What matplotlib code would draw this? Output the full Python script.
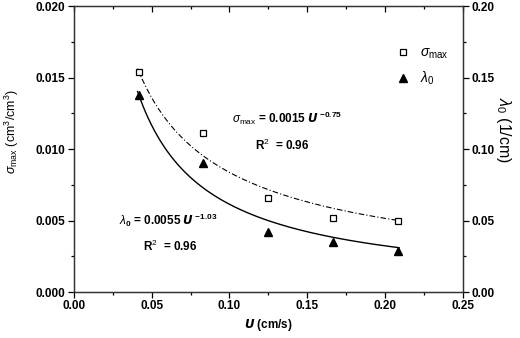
import numpy as np
import matplotlib
matplotlib.use('Agg')
import matplotlib.pyplot as plt

plt.rcParams['font.family'] = ['Liberation Sans', 'DejaVu Sans']
plt.rcParams['mathtext.fontset'] = 'custom'
plt.rcParams['mathtext.rm'] = 'Liberation Sans'
plt.rcParams['mathtext.it'] = 'Liberation Sans:italic'
plt.rcParams['mathtext.bf'] = 'Liberation Sans:bold'

# data
U = [0.0417, 0.0833, 0.125, 0.1667, 0.2083]
sigma_max = [0.0154, 0.0111, 0.0066, 0.0052, 0.0050]
lambda_0 = [0.138, 0.090, 0.042, 0.035, 0.029]

# power-law curves as drawn (a * U^b)
sig_fit = (0.00167, -0.70)
lam_fit = (0.00728, -0.926)
fit_range = (0.041, 0.209)

x_ticks = [0.00, 0.05, 0.10, 0.15, 0.20, 0.25]
y_ticks = [0.000, 0.005, 0.010, 0.015, 0.020]
y2_ticks = [0.00, 0.05, 0.10, 0.15, 0.20]

fig = plt.figure(figsize=(5.2, 3.38), dpi=100)
ax = fig.add_axes([0.142, 0.136, 0.748, 0.846])
ax2 = ax.twinx()

uu = np.linspace(fit_range[0], fit_range[1], 200)
ax.plot(uu, sig_fit[0] * uu ** sig_fit[1], color='black', lw=0.8,
        linestyle=(0, (5, 2, 1, 2)))
ax2.plot(uu, lam_fit[0] * uu ** lam_fit[1], color='black', lw=1.0)

hs, = ax.plot(U, sigma_max, 's', ms=4.5, mfc='white', mec='black', mew=0.9)
hl, = ax2.plot(U, lambda_0, '^', ms=6, color='black')

ax.set_xlim(0, 0.25)
ax.set_ylim(0, 0.020)
ax2.set_ylim(0, 0.20)
ax.set_xticks(x_ticks)
ax.set_xticklabels(['%.2f' % v for v in x_ticks])
ax.set_yticks(y_ticks)
ax.set_yticklabels(['%.3f' % v for v in y_ticks])
ax2.set_yticks(y2_ticks)
ax2.set_yticklabels(['%.2f' % v for v in y2_ticks])
ax.set_xticks(np.arange(0.025, 0.25, 0.05), minor=True)
ax.set_yticks(np.arange(0.0025, 0.02, 0.005), minor=True)
ax2.set_yticks(np.arange(0.025, 0.2, 0.05), minor=True)

for a in (ax, ax2):
    a.tick_params(which='major', direction='out', length=4, width=0.9,
                  labelsize=8.5, pad=2)
    a.tick_params(which='minor', direction='out', length=2.5, width=0.9)
    for lab in a.get_xticklabels() + a.get_yticklabels():
        lab.set_fontweight('bold')
    for s in a.spines.values():
        s.set_linewidth(0.9)
        s.set_color('#333333')

# top ticks point into the plot: use the twin's x axis for them
ax2.xaxis.set_visible(True)
ax2.tick_params(axis='x', which='both', bottom=False, labelbottom=False,
                top=True, labeltop=False, direction='in', width=0.9)
ax2.tick_params(axis='x', which='major', length=4)
ax2.tick_params(axis='x', which='minor', length=2.5)

ax.set_xlabel(r'$\mathbfit{U}$ (cm/s)', fontsize=8.5, fontweight='bold',
              labelpad=3)
ax.set_ylabel(r'$\sigma_{\mathrm{max}}$ (cm$^3$/cm$^3$)', fontsize=9)
ax.yaxis.set_label_coords(-0.135, 0.56)
ax2.set_ylabel(r'$\lambda_0$ (1/cm)', fontsize=11.5, rotation=-90,
               va='center')
ax2.yaxis.set_label_coords(1.105, 0.565)

ax.text(0.1015, 0.0118,
        r'$\sigma_{\mathrm{max}}$ = 0.0015 $\mathbfit{U}$$^{\ \mathbf{-0.75}}$',
        fontsize=8.5, fontweight='bold')
ax.text(0.1163, 0.0099, r'R$^2$  = 0.96', fontsize=8.5, fontweight='bold')
ax.text(0.029, 0.0047,
        r'$\lambda_\mathbf{0}$ = 0.0055 $\mathbfit{U}$$^{\ \mathbf{-1.03}}$',
        fontsize=8.5, fontweight='bold')
ax.text(0.0445, 0.0029, r'R$^2$  = 0.96', fontsize=8.5, fontweight='bold')

leg = ax.legend([hs, hl], [r'$\sigma_{\mathrm{max}}$', r'$\lambda_\mathrm{0}$'],
                loc='upper right', bbox_to_anchor=(0.995, 0.905), frameon=False,
                fontsize=10, handletextpad=0.6, labelspacing=0.6,
                handlelength=1.2, markerscale=0.85)

fig.savefig('out.png', dpi=100)
